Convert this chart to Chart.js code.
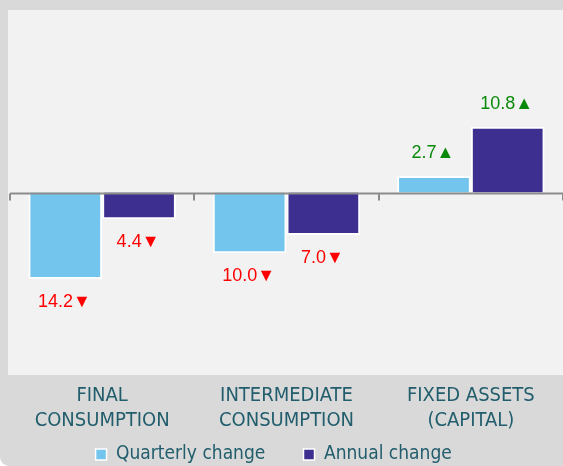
<!DOCTYPE html>
<html>
<head>
<meta charset="utf-8">
<script src="https://cdn.jsdelivr.net/npm/chart.js@4/dist/chart.umd.min.js"></script>
<style>
  html, body { margin: 0; padding: 0; background: #ffffff; }
  #wrap { width: 563px; height: 466px; background: #d9d9d9; border-bottom-left-radius: 9px; position: relative; }
  canvas { display: block; }
</style>
</head>
<body>
<div id="wrap"><canvas id="chart" width="563" height="466"></canvas></div>
<script>
const categories = [['FINAL', 'CONSUMPTION'], ['INTERMEDIATE', 'CONSUMPTION'], ['FIXED ASSETS', '(CAPITAL)']];
const quarterly = [-14.2, -10.0, 2.7];
const annual = [-4.4, -7.0, 10.8];
const seriesNames = ['Quarterly change', 'Annual change'];

const FONT = "'Liberation Sans Narrow', 'DejaVu Sans Condensed', sans-serif";
const TEXT = '#215d6c';

// light panel behind the plot
const panelBg = {
  id: 'panelBg',
  beforeDraw(chart) {
    const { ctx, chartArea } = chart;
    ctx.save();
    ctx.fillStyle = '#f2f2f2';
    ctx.fillRect(8, 10, chart.width - 8, chartArea.bottom - 10);
    ctx.restore();
  }
};

// zero line with tick marks between categories
const zeroAxis = {
  id: 'zeroAxis',
  afterDatasetsDraw(chart) {
    const { ctx } = chart;
    const x = chart.scales.x, y = chart.scales.y;
    const y0 = Math.round(y.getPixelForValue(0)) + 0.5;
    const step = x.getPixelForValue(1) - x.getPixelForValue(0);
    ctx.save();
    ctx.strokeStyle = '#8c8c8c';
    ctx.lineWidth = 2;
    ctx.beginPath();
    ctx.moveTo(x.left, y0);
    ctx.lineTo(chart.width, y0);
    for (let i = 0; i <= categories.length; i++) {
      const px = Math.round(x.getPixelForValue(0) - step / 2 + i * step);
      ctx.moveTo(px, y0);
      ctx.lineTo(px, y0 + 7);
    }
    ctx.stroke();
    ctx.restore();
  }
};

// value labels with up/down arrows
const valueLabels = {
  id: 'valueLabels',
  afterDatasetsDraw(chart) {
    const { ctx } = chart;
    ctx.save();
    ctx.font = "18px 'Liberation Sans', 'DejaVu Sans', sans-serif";
    ctx.textAlign = 'center';
    ctx.textBaseline = 'middle';
    chart.data.datasets.forEach((ds, di) => {
      chart.getDatasetMeta(di).data.forEach((el, i) => {
        const v = ds.data[i];
        const txt = Math.abs(v).toFixed(1) + (v < 0 ? '\u25BC' : '\u25B2');
        ctx.fillStyle = v < 0 ? '#ff0000' : '#0a8a0a';
        ctx.fillText(txt, el.x - 1, el.y + (v < 0 ? 23 : -23));
      });
    });
    ctx.restore();
  }
};

new Chart(document.getElementById('chart'), {
  type: 'bar',
  data: {
    labels: categories,
    datasets: [
      { label: seriesNames[0], data: quarterly, backgroundColor: '#73c5ee', borderColor: '#ffffff', borderWidth: 2 },
      { label: seriesNames[1], data: annual, backgroundColor: '#3c2f8f', borderColor: '#ffffff', borderWidth: 2 }
    ]
  },
  options: {
    responsive: false,
    animation: false,
    layout: { padding: { left: 10, top: 10, right: 0, bottom: -8 } },
    datasets: { bar: { categoryPercentage: 0.8, barPercentage: 1.0 } },
    scales: {
      x: {
        grid: { display: false, drawTicks: false },
        border: { display: false },
        ticks: { color: TEXT, font: { family: FONT, size: 20, lineHeight: 1.25 }, padding: 8, maxRotation: 0 }
      },
      y: { display: false, min: -30, max: 30 }
    },
    plugins: {
      legend: {
        position: 'bottom',
        labels: {
          color: TEXT,
          font: { family: FONT, size: 19 },
          boxWidth: 11,
          boxHeight: 11,
          padding: 4,
          generateLabels(chart) {
            // trailing spaces space the items out and nudge the group a bit left
            const last = chart.data.datasets.length - 1;
            return chart.data.datasets.map((ds, i) => ({
              text: ds.label + (i < last ? '\u2003\u2003' : '\u2003\u2002'),
              fillStyle: ds.backgroundColor, strokeStyle: '#ffffff',
              lineWidth: 1.5, fontColor: TEXT, datasetIndex: i, hidden: false
            }));
          }
        }
      },
      tooltip: { enabled: false }
    }
  },
  plugins: [panelBg, zeroAxis, valueLabels]
});
</script>
</body>
</html>
